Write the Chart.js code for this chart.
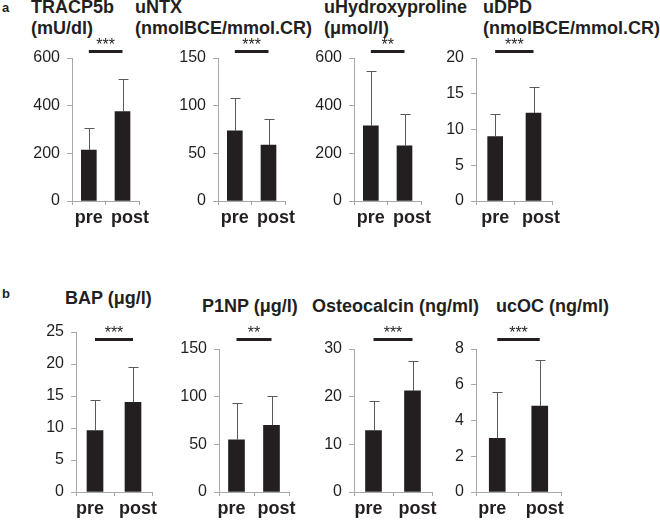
<!DOCTYPE html>
<html>
<head>
<meta charset="utf-8">
<script src="https://cdn.jsdelivr.net/npm/chart.js@4.4.1/dist/chart.umd.min.js"></script>
<style>
  body { margin: 0; background: #fff; }
  #wrap { position: relative; width: 660px; height: 522px; overflow: hidden; font-family: "Liberation Sans", Arial, sans-serif; color: #231f20; }
  .t { position: absolute; font-weight: bold; font-size: 18px; line-height: 21px; white-space: nowrap; }
  .p { position: absolute; font-weight: bold; font-size: 13px; line-height: 15px; }
  canvas { position: absolute; }
</style>
</head>
<body>
<div id="wrap">
  <div class="p" style="left:2px;top:0px">a</div>
  <div class="p" style="left:2px;top:286px">b</div>
  <div class="t" style="left:31px;top:-3px">TRACP5b<br>(mU/dl)</div>
  <div class="t" style="left:135px;top:-3px">uNTX<br>(nmolBCE/mmol.CR)</div>
  <div class="t" style="left:324px;top:-3px">uHydroxyproline<br>(μmol/l)</div>
  <div class="t" style="left:483px;top:-3px">uDPD<br>(nmolBCE/mmol.CR)</div>
  <div class="t" style="left:65px;top:288px">BAP (μg/l)</div>
  <div class="t" style="left:202px;top:296px">P1NP (μg/l)</div>
  <div class="t" style="left:312px;top:296px">Osteocalcin (ng/ml)</div>
  <div class="t" style="left:496px;top:296px">ucOC (ng/ml)</div>
</div>
<script>
// groups on the x axis
const groups = ['pre', 'post'];

// mean values (pre, post) and upper SD per marker
const tracp5b = [214, 375];
const tracp5bSd = [91, 135];
const untx = [73.7, 58.7];
const untxSd = [34, 27];
const uhyp = [315, 232];
const uhypSd = [229, 132];
const udpd = [9.0, 12.3];
const udpdSd = [3.1, 3.6];
const bap = [9.6, 14.0];
const bapSd = [4.7, 5.5];
const p1np = [54.7, 69.9];
const p1npSd = [38.8, 30.7];
const osteocalcin = [12.9, 21.2];
const osteocalcinSd = [6.2, 6.3];
const ucoc = [3.0, 4.8];
const ucocSd = [2.6, 2.6];

// significance marks
const stars = ['***', '***', '**', '***', '***', '**', '***', '***'];

// y axis max and step per panel
const yMax = [600, 150, 600, 20, 25, 150, 30, 8];
const yStep = [200, 50, 200, 5, 5, 50, 10, 2];

const values = [tracp5b, untx, uhyp, udpd, bap, p1np, osteocalcin, ucoc];
const sds = [tracp5bSd, untxSd, uhypSd, udpdSd, bapSd, p1npSd, osteocalcinSd, ucocSd];

// page placement of each plot area: axis x, right end, top px, zero px, sig line y, bar width,
// and how many spaces push the pre / post label off centre (negative = left)
const boxes = [
  { left: 72, right: 142, top: 58, zero: 201, sigY: 51.5, bar: 15, nudge: [0, 3] },
  { left: 218, right: 288, top: 58, zero: 201, sigY: 51.5, bar: 15, nudge: [0, 3] },
  { left: 354, right: 424, top: 58, zero: 201, sigY: 51.5, bar: 15, nudge: [0, 3] },
  { left: 476, right: 553, top: 58, zero: 201, sigY: 51.5, bar: 15, nudge: [0, 3] },
  { left: 76, right: 152, top: 332, zero: 492, sigY: 339.5, bar: 16, nudge: [-2, 2] },
  { left: 219, right: 289, top: 349, zero: 492, sigY: 339.5, bar: 16, nudge: [-2, 2] },
  { left: 354, right: 432, top: 349, zero: 492, sigY: 339.5, bar: 16, nudge: [-2, 2] },
  { left: 476, right: 561, top: 349, zero: 492, sigY: 339.5, bar: 16, nudge: [-2, 2] }
];

const INK = '#231f20';
const AXIS = '#a8a8a8';
const FONT = '"Liberation Sans", Arial, sans-serif';
const PAD_TOP = 40, AXIS_W = 60, X_AXIS_H = 34, PAD_RIGHT = 12;

const whiskers = {
  id: 'whiskers',
  afterDatasetsDraw(chart, args, opts) {
    const { ctx, scales: { x, y } } = chart;
    ctx.save();
    ctx.strokeStyle = '#5a5a5a';
    ctx.lineWidth = 1;
    opts.values.forEach((v, j) => {
      const px = Math.round(x.getPixelForValue(j)) + 0.5;
      const y0 = y.getPixelForValue(v);
      const y1 = Math.round(y.getPixelForValue(v + opts.sd[j])) + 0.5;
      ctx.beginPath();
      ctx.moveTo(px, y0);
      ctx.lineTo(px, y1);
      ctx.moveTo(px - 5, y1);
      ctx.lineTo(px + 5, y1);
      ctx.stroke();
    });
    // significance bar and stars
    const x0 = x.getPixelForValue(0), x1 = x.getPixelForValue(1);
    ctx.fillStyle = INK;
    ctx.fillRect(x0, opts.sigY - 1.5, x1 - x0, 3);
    ctx.font = '16px ' + FONT;
    ctx.textAlign = 'center';
    ctx.textBaseline = 'alphabetic';
    ctx.fillText(opts.stars, (x0 + x1) / 2, opts.sigY - 2);
    ctx.restore();
  }
};

function nudged(label, n) {
  const pad = ' '.repeat(Math.abs(n));
  return n < 0 ? label + pad : pad + label;
}

const wrap = document.getElementById('wrap');

values.forEach((vals, i) => {
  const b = boxes[i];
  const cv = document.createElement('canvas');
  const w = AXIS_W + (b.right - b.left) + PAD_RIGHT;
  const h = PAD_TOP + (b.zero - b.top) + X_AXIS_H;
  const top = b.top - PAD_TOP;
  cv.width = w;
  cv.height = h;
  cv.style.left = (b.left - AXIS_W) + 'px';
  cv.style.top = top + 'px';
  wrap.appendChild(cv);

  new Chart(cv, {
    type: 'bar',
    data: {
      labels: groups,
      datasets: [{
        data: vals,
        backgroundColor: INK,
        borderWidth: 0,
        barThickness: b.bar
      }]
    },
    options: {
      responsive: false,
      animation: false,
      layout: { padding: { top: PAD_TOP, right: PAD_RIGHT, left: 0, bottom: 0 } },
      plugins: {
        legend: { display: false },
        tooltip: { enabled: false },
        whiskers: { values: vals, sd: sds[i], stars: stars[i], sigY: b.sigY - top }
      },
      scales: {
        x: {
          afterFit: (s) => { s.height = X_AXIS_H; },
          grid: { drawOnChartArea: false, tickLength: 4, color: AXIS },
          border: { color: AXIS },
          ticks: {
            color: INK,
            padding: 2,
            autoSkip: false,
            maxRotation: 0,
            minRotation: 0,
            callback: (v, j) => nudged(groups[j], b.nudge[j]),
            font: { family: FONT, size: 18, weight: 'bold' }
          }
        },
        y: {
          min: 0,
          max: yMax[i],
          afterFit: (s) => { s.width = AXIS_W; },
          grid: { drawOnChartArea: false, tickLength: 5, color: AXIS },
          border: { color: AXIS },
          ticks: {
            stepSize: yStep[i],
            color: INK,
            padding: 7,
            font: { family: FONT, size: 16 }
          }
        }
      }
    },
    plugins: [whiskers]
  });
});
</script>
</body>
</html>
